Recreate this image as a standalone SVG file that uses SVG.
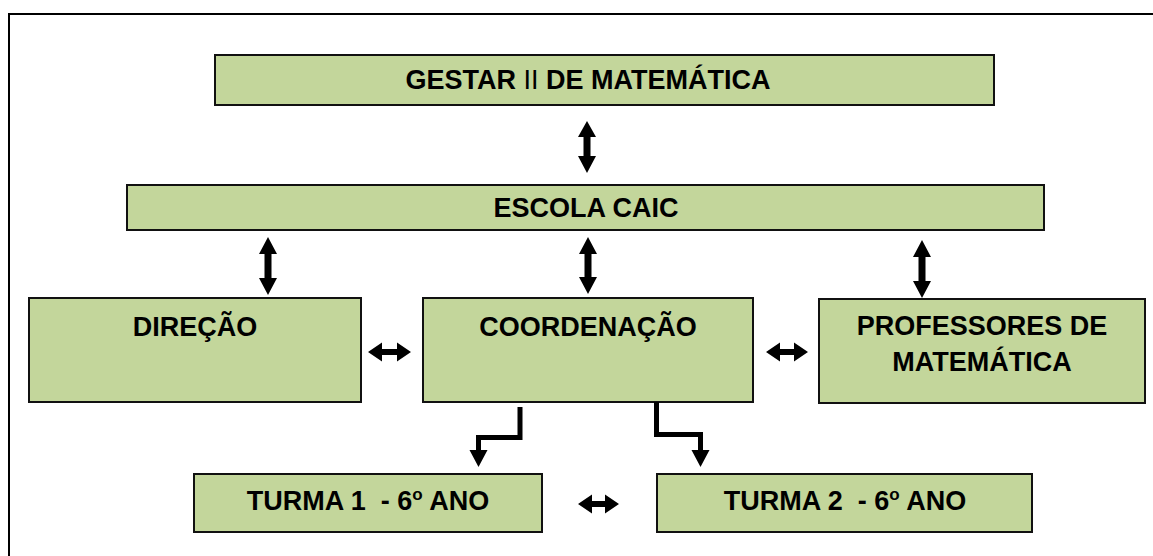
<svg xmlns="http://www.w3.org/2000/svg" width="1153" height="556" viewBox="0 0 1153 556">
<style>
.box{fill:#C3D69B;stroke:#111;stroke-width:2}
.t{font-family:"Liberation Sans",Arial,sans-serif;font-weight:bold;font-size:27px;fill:#000;text-anchor:middle;white-space:pre}
.ar{fill:#000}
.el{fill:none;stroke:#000;stroke-width:5}
</style>
<rect x="9" y="14" width="1200" height="600" fill="#fff" stroke="#000" stroke-width="2"/>
<g id="gestar"><rect class="box" x="215" y="55" width="779" height="50"/><text class="t" x="588" y="89">GESTAR <tspan font-weight="normal">II</tspan> DE MATEMÁTICA</text></g>
<g id="escola"><rect class="box" x="127" y="185" width="917" height="45"/><text class="t" x="586" y="217">ESCOLA CAIC</text></g>
<g id="direcao"><rect class="box" x="29" y="298" width="332" height="104"/><text class="t" x="195" y="336">DIREÇÃO</text></g>
<g id="coordenacao"><rect class="box" x="423" y="298" width="330" height="104"/><text class="t" x="588" y="336">COORDENAÇÃO</text></g>
<g id="professores"><rect class="box" x="819" y="299" width="326" height="104"/><text class="t" x="982" y="335">PROFESSORES DE</text><text class="t" x="982" y="371">MATEMÁTICA</text></g>
<g id="turma1"><rect class="box" x="194" y="474" width="348" height="58"/><text class="t" x="368" y="510" xml:space="preserve">TURMA 1  - 6<tspan font-size="17" dy="-10">o</tspan><tspan dy="10"> ANO</tspan></text></g>
<g id="turma2"><rect class="box" x="657" y="474" width="375" height="58"/><text class="t" x="845" y="510" xml:space="preserve">TURMA 2  - 6<tspan font-size="17" dy="-10">o</tspan><tspan dy="10"> ANO</tspan></text></g>
<g id="connectors">
<polygon class="ar" points="587,121 596,137 590.5,137 590.5,156 596,156 587,173 578,156 583.5,156 583.5,137 578,137"/>
<polygon class="ar" points="268,237 277,254 271.5,254 271.5,278 277,278 268,295 259,278 264.5,278 264.5,254 259,254"/>
<polygon class="ar" points="588,237 597,254 591.5,254 591.5,277 597,277 588,294 579,277 584.5,277 584.5,254 579,254"/>
<polygon class="ar" points="922,240 931,257 925.5,257 925.5,281 931,281 922,298 913,281 918.5,281 918.5,257 913,257"/>
<polygon class="ar" points="368,352 382,342.5 382,349 397,349 397,342.5 411,352 397,361.5 397,355 382,355 382,361.5"/>
<polygon class="ar" points="766,352 780,342.5 780,349 794,349 794,342.5 808,352 794,361.5 794,355 780,355 780,361.5"/>
<polygon class="ar" points="578,504 592,494.5 592,501 605,501 605,494.5 619,504 605,513.5 605,507 592,507 592,513.5"/>
<polyline class="el" points="520,407 520,437.5 478.5,437.5 478.5,452"/>
<polygon class="ar" points="469.5,450 487.5,450 478.5,467"/>
<polyline class="el" points="656.5,402 656.5,434.5 700.5,434.5 700.5,452"/>
<polygon class="ar" points="691.5,450 709.5,450 700.5,467"/>
</g>
</svg>
